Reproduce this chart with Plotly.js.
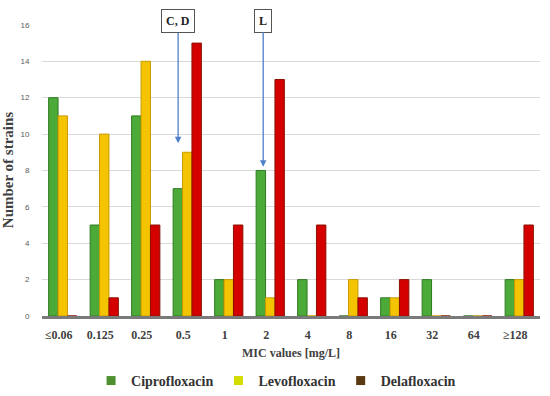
<!DOCTYPE html>
<html><head><meta charset="utf-8">
<script src="https://cdn.plot.ly/plotly-3.0.1.min.js"></script>
<style>html,body{margin:0;padding:0;background:#fff}#c{width:550px;height:396px}</style>
</head><body><div id="c"></div>
<script>
const categories = ["≤0.06","0.125","0.25","0.5","1","2","4","8","16","32","64","≥128"];
const cipro = [12,5,11,7,2,8,2,0,1,2,0,2];
const levo  = [11,10,14,9,2,1,0,2,1,0,0,2];
const dela  = [0,1,5,15,5,13,5,1,2,0,0,5];
const seriesNames = ["Ciprofloxacin","Levofloxacin","Delafloxacin"];

const serif = "Liberation Serif";
function barTrace(name, y, color, line){
  return {type:'bar', name:name, x:categories, y:y, showlegend:false,
    marker:{color:color, line:{color:line, width:1}}, hoverinfo:'x+y'};
}
function legendTrace(name, color){
  return {type:'scatter', mode:'markers', name:name, x:[null], y:[null], showlegend:true,
    marker:{color:color, symbol:'square', size:9}};
}
const data = [
  barTrace(seriesNames[0], cipro, '#4caa38', '#2f7a22'),
  barTrace(seriesNames[1], levo,  '#f5c400', '#c89a00'),
  barTrace(seriesNames[2], dela,  '#d40000', '#8a1000'),
  legendTrace(seriesNames[0], '#4e8f2f'),
  legendTrace(seriesNames[1], '#d4dc00'),
  legendTrace(seriesNames[2], '#5a3812')
];
const layout = {
  width:550, height:396,
  margin:{l:42, r:10, t:24, b:80, autoexpand:false},
  paper_bgcolor:'#fff', plot_bgcolor:'#fff',
  barmode:'group', bargap:0.32, bargroupgap:0,
  showlegend:true,
  legend:{orientation:'h', x:0.47, xanchor:'center', yref:'container', y:0.038, yanchor:'middle',
    font:{family:serif, size:14, color:'#333', weight:'bold'}, itemwidth:20, traceorder:'normal'},
  xaxis:{type:'category', automargin:false, showgrid:false, showline:true, linecolor:'#7a7a7a', linewidth:3,
    ticks:'outside', ticklen:6, tickcolor:'rgba(0,0,0,0)', ticklabelshift:-4,
    tickfont:{family:serif, size:12, color:'#404040', weight:'bold'},
    title:{text:'<b>MIC values [mg/L]</b>', font:{family:serif, size:12, color:'#404040'}, standoff:8}},
  yaxis:{range:[0,16.05], automargin:false, dtick:2, showgrid:true, gridcolor:'#d9d9d9', gridwidth:1,
    zeroline:false, ticks:'outside', ticklen:10, tickcolor:'rgba(0,0,0,0)',
    tickfont:{family:'Liberation Sans', size:8, color:'#595959'},
    title:{text:'<b>Number of strains</b>', font:{family:serif, size:15, color:'#404040'}, standoff:4}},
  annotations:[
    {x:2.78, y:9.5, xref:'x', yref:'y', text:'<b>C, D</b>', showarrow:true,
     ax:0, ay:-122, arrowhead:2, arrowsize:1, arrowwidth:1.3, arrowcolor:'#4f81c8',
     bgcolor:'#fff', bordercolor:'#555', borderwidth:1, borderpad:4,
     font:{family:serif, size:12, color:'#222'}},
    {x:4.83, y:8.2, xref:'x', yref:'y', text:'<b>L</b>', showarrow:true,
     ax:0, ay:-146, arrowhead:2, arrowsize:1, arrowwidth:1.3, arrowcolor:'#4f81c8',
     bgcolor:'#fff', bordercolor:'#555', borderwidth:1, borderpad:4,
     font:{family:serif, size:12, color:'#222'}}
  ]
};
Plotly.newPlot('c', data, layout, {displayModeBar:false, staticPlot:true});
</script></body></html>
